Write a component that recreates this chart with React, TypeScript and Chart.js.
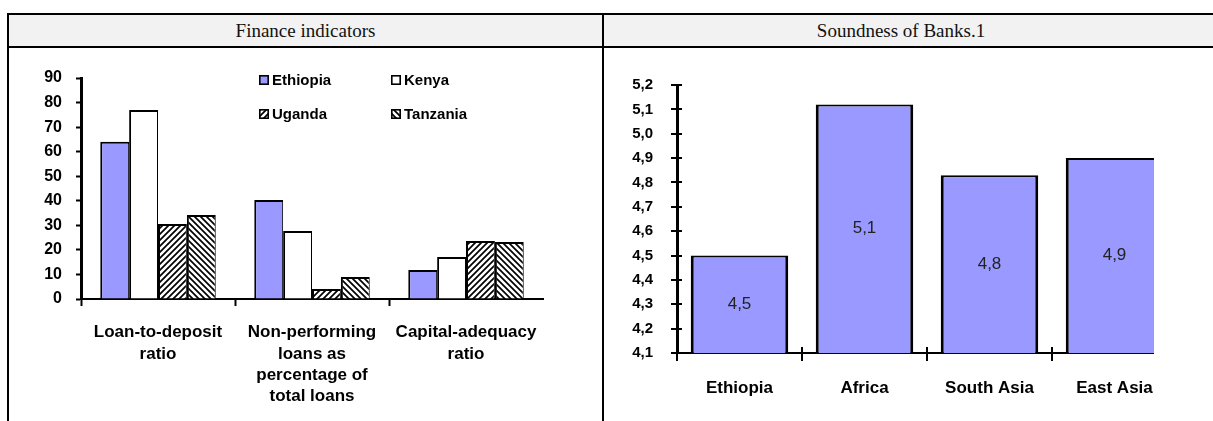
import React, { useEffect, useRef } from 'react';
import { Chart, registerables } from 'chart.js';

Chart.register(...registerables);

// ---------- data ----------
const financeCategories = [
  ['Loan-to-deposit', 'ratio'],
  ['Non-performing', 'loans as', 'percentage of', 'total loans'],
  ['Capital-adequacy', 'ratio'],
];
const financeSeriesNames = ['Ethiopia', 'Kenya', 'Uganda', 'Tanzania'];
const ethiopiaValues = [64, 40.3, 11.8];
const kenyaValues = [77, 27.7, 17.1];
const ugandaValues = [30.5, 4.1, 23.6];
const tanzaniaValues = [34.2, 9, 23.2];
const financeMin = 0;
const financeMax = 90;
const financeStep = 10;

const soundnessCategories = ['Ethiopia', 'Africa', 'South Asia', 'East Asia'];
const soundnessValues = [4.5, 5.12, 4.83, 4.9];
const soundnessMin = 4.1;
const soundnessMax = 5.2;
const soundnessStep = 0.1;

const headerLeft = 'Finance indicators';
const headerRight = 'Soundness of Banks.1';

// ---------- helpers ----------
const SANS = '"Liberation Sans", Arial, sans-serif';
const fmtComma = (v: number) => Number(v).toFixed(1).replace('.', ',');

function makeHatch(ctx: CanvasRenderingContext2D, dir: 'up' | 'down') {
  const size = 6;
  const c = document.createElement('canvas');
  c.width = size;
  c.height = size;
  const g = c.getContext('2d')!;
  g.fillStyle = '#ffffff';
  g.fillRect(0, 0, size, size);
  g.strokeStyle = '#000000';
  g.lineWidth = 1.7;
  g.beginPath();
  if (dir === 'up') {
    g.moveTo(-1, size + 1); g.lineTo(size + 1, -1);
    g.moveTo(-2, 2); g.lineTo(2, -2);
    g.moveTo(size - 2, size + 2); g.lineTo(size + 2, size - 2);
  } else {
    g.moveTo(-1, -1); g.lineTo(size + 1, size + 1);
    g.moveTo(size - 2, -2); g.lineTo(size + 2, 2);
    g.moveTo(-2, size - 2); g.lineTo(2, size + 2);
  }
  g.stroke();
  return ctx.createPattern(c, 'repeat')!;
}

const gridLegendPlugin = {
  id: 'gridLegend',
  afterDraw(chart: any) {
    const { ctx, chartArea } = chart;
    const cols = [178, 310];
    const rows = [2, 36];
    chart.data.datasets.forEach((ds: any, i: number) => {
      const x = chartArea.left + cols[i % 2];
      const y = chartArea.top + rows[Math.floor(i / 2)];
      ctx.save();
      ctx.fillStyle = ds.backgroundColor;
      ctx.fillRect(x, y - 5, 10, 10);
      ctx.lineWidth = 1.6;
      ctx.strokeStyle = '#000';
      ctx.strokeRect(x + 0.8, y - 4.2, 8.4, 8.4);
      ctx.fillStyle = '#000';
      ctx.font = `bold 15px ${SANS}`;
      ctx.textBaseline = 'middle';
      ctx.textAlign = 'left';
      ctx.fillText(ds.label, x + 13, y + 1);
      ctx.restore();
    });
  },
};

const soundnessDecorPlugin = {
  id: 'soundnessDecor',
  afterDraw(chart: any) {
    const { ctx, chartArea, scales } = chart;
    const xs = scales.x;
    const ys = scales.y;
    const values = chart.data.datasets[0].data;
    // value labels centred inside bars
    ctx.save();
    ctx.fillStyle = '#222222';
    ctx.font = '17px "Liberation Sans", Arial, sans-serif';
    ctx.textAlign = 'center';
    ctx.textBaseline = 'middle';
    for (let i = 0; i < values.length; i++) {
      const v = Number(values[i]);
      const px = xs.getPixelForValue(i);
      const top = ys.getPixelForValue(v);
      const base = ys.getPixelForValue(ys.min);
      ctx.fillText(fmtComma(v), px, (top + base) / 2);
    }
    ctx.restore();
    // cross tick marks
    ctx.save();
    ctx.strokeStyle = '#000';
    ctx.lineWidth = 2;
    ctx.beginPath();
    ys.ticks.forEach((t: any) => {
      const py = Math.round(ys.getPixelForValue(t.value));
      ctx.moveTo(chartArea.left - 6, py);
      ctx.lineTo(chartArea.left + 5, py);
    });
    const step = xs.getPixelForValue(1) - xs.getPixelForValue(0);
    for (let i = 0; i < xs.ticks.length; i++) {
      const px = Math.round(xs.getPixelForValue(i) - step / 2);
      ctx.moveTo(px, chartArea.bottom - 6);
      ctx.lineTo(px, chartArea.bottom + 8);
    }
    ctx.stroke();
    ctx.restore();
  },
};

export default function App() {
  const leftRef = useRef<HTMLCanvasElement>(null);
  const rightRef = useRef<HTMLCanvasElement>(null);

  useEffect(() => {
    const lc = leftRef.current!;
    const rc = rightRef.current!;
    const lctx = lc.getContext('2d')!;
    const hatchUp = makeHatch(lctx, 'up');
    const hatchDown = makeHatch(lctx, 'down');
    const fills = ['#9999FF', '#FFFFFF', hatchUp, hatchDown];
    const seriesValues = [ethiopiaValues, kenyaValues, ugandaValues, tanzaniaValues];

    const left = new Chart(lc, {
      type: 'bar',
      data: {
        labels: financeCategories as any,
        datasets: financeSeriesNames.map((name, i) => ({
          label: name,
          data: seriesValues[i],
          backgroundColor: fills[i] as any,
          borderColor: '#000',
          borderWidth: { top: 2, left: 2, right: 1, bottom: 0 },
          barPercentage: 1,
          categoryPercentage: 0.75,
        })),
      },
      options: {
        responsive: false,
        animation: false,
        layout: { padding: { left: 0, right: 60, top: 29, bottom: 0 } },
        plugins: { legend: { display: false }, tooltip: { enabled: false } },
        scales: {
          x: {
            grid: {
              drawOnChartArea: false,
              drawTicks: true,
              tickLength: 7,
              tickWidth: 2,
              offset: true,
              color: (c: any) => (c.index === undefined ? 'rgba(0,0,0,0)' : '#000'),
            },
            border: { display: true, color: '#000', width: 2 },
            ticks: {
              color: '#000',
              font: { family: SANS, size: 17, weight: 'bold', lineHeight: 1.25 },
              padding: 16,
              maxRotation: 0,
              autoSkip: false,
            },
            afterFit: (s: any) => { s.height = 122; },
          },
          y: {
            min: financeMin,
            max: financeMax,
            ticks: {
              stepSize: financeStep,
              color: '#000',
              font: { family: SANS, size: 16, weight: 'bold' },
              padding: 14,
            },
            grid: { drawOnChartArea: false, tickLength: 5, tickWidth: 2, color: '#000' },
            border: { display: true, color: '#000', width: 3 },
            afterFit: (s: any) => { s.width = 72; },
          },
        },
      },
      plugins: [gridLegendPlugin],
    } as any);

    const right = new Chart(rc, {
      type: 'bar',
      data: {
        labels: soundnessCategories,
        datasets: [
          {
            label: 'Soundness',
            data: soundnessValues,
            backgroundColor: '#9999FF',
            borderColor: '#000',
            borderWidth: { top: 2, left: 3, right: 3, bottom: 0 },
            barPercentage: 0.78,
            categoryPercentage: 1,
          },
        ],
      },
      options: {
        responsive: false,
        animation: false,
        layout: { padding: { left: 0, right: 28, top: 36, bottom: 0 } },
        plugins: { legend: { display: false }, tooltip: { enabled: false } },
        scales: {
          x: {
            grid: { drawOnChartArea: false, drawTicks: false },
            border: { display: true, color: '#000', width: 2 },
            ticks: {
              color: '#000',
              font: { family: SANS, size: 17, weight: 'bold', lineHeight: 1.25 },
              padding: 25,
              maxRotation: 0,
              autoSkip: false,
            },
            afterFit: (s: any) => { s.height = 68; },
          },
          y: {
            min: soundnessMin,
            max: soundnessMax,
            ticks: {
              stepSize: soundnessStep,
              color: '#000',
              font: { family: SANS, size: 15, weight: 'bold' },
              padding: 24,
              callback: (v: any) => fmtComma(v),
            },
            grid: { drawOnChartArea: false, drawTicks: false },
            border: { display: true, color: '#000', width: 3 },
            afterFit: (s: any) => { s.width = 72; },
          },
        },
      },
      plugins: [soundnessDecorPlugin],
    } as any);

    return () => {
      left.destroy();
      right.destroy();
    };
  }, []);

  const abs = (l: number, t: number, w: number, h: number, extra: any = {}) => ({
    position: 'absolute' as const,
    left: l,
    top: t,
    width: w,
    height: h,
    ...extra,
  });
  const headerText = {
    fontFamily: '"Liberation Serif", "Times New Roman", serif',
    fontSize: 19,
    lineHeight: '31px',
    textAlign: 'center' as const,
    color: '#111',
    whiteSpace: 'nowrap' as const,
  };

  return (
    <div style={abs(0, 0, 1213, 421, { overflow: 'hidden', background: '#fff' })}>
      <div style={abs(9, 15, 1204, 31, { background: '#f2f2f2' })} />
      <div style={abs(7, 13, 1206, 2, { background: '#000' })} />
      <div style={abs(7, 46, 1206, 2, { background: '#000' })} />
      <div style={abs(7, 13, 2, 408, { background: '#000' })} />
      <div style={abs(602, 13, 2, 408, { background: '#000' })} />
      <div style={abs(9, 15, 593, 31, headerText)}>{headerLeft}</div>
      <div style={abs(604, 15, 594, 31, headerText)}>{headerRight}</div>
      <div style={abs(9, 49, 593, 353, { overflow: 'hidden' })}>
        <canvas ref={leftRef} width={594} height={372} style={{ display: 'block' }} />
      </div>
      <div style={abs(605, 49, 549, 372, { overflow: 'hidden' })}>
        <canvas ref={rightRef} width={600} height={372} style={{ display: 'block' }} />
      </div>
    </div>
  );
}
